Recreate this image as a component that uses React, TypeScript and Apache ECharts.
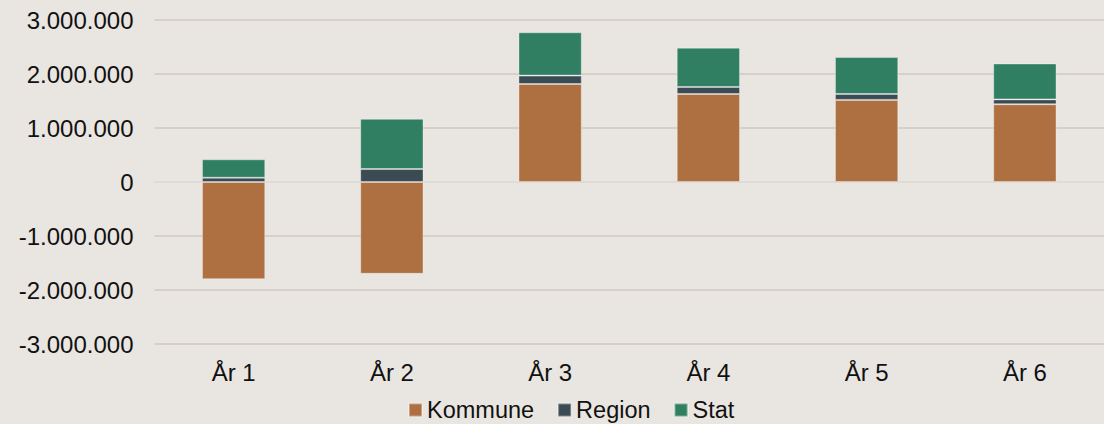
import React, { useEffect, useRef } from "react";
import * as echarts from "echarts";

const categories = ["År 1", "År 2", "År 3", "År 4", "År 5", "År 6"];
const kommune = [-1800000, -1700000, 1815000, 1630000, 1520000, 1440000];
const region = [80000, 240000, 155000, 130000, 110000, 90000];
const stat = [340000, 930000, 803000, 728000, 685000, 665000];

const fmt = (v: number) => {
  const s = Math.abs(v).toString().replace(/\B(?=(\d{3})+(?!\d))/g, ".");
  return (v < 0 ? "-" : "") + s;
};

export default function App() {
  const ref = useRef<HTMLDivElement>(null);
  useEffect(() => {
    if (!ref.current) return;
    const chart = echarts.init(ref.current, undefined, { renderer: "svg" });
    const font = "'Liberation Sans', Arial, sans-serif";
    const barStyle = (color: string) => ({
      color,
      borderColor: "rgba(255,255,255,0.35)",
      borderWidth: 1,
    });
    chart.setOption({
      animation: false,
      backgroundColor: "#E9E6E1",
      textStyle: { fontFamily: font },
      grid: { left: 154.5, right: -5.5, top: 20, bottom: 80, containLabel: false },
      legend: {
        left: 408,
        top: 398,
        padding: 0,
        itemWidth: 13,
        itemHeight: 13,
        itemGap: 23,
        icon: "rect",
        textStyle: { fontSize: 23.5, color: "#111", fontFamily: font },
        data: ["Kommune", "Region", "Stat"],
      },
      xAxis: {
        type: "category",
        data: categories,
        axisLine: { show: true, onZero: true, lineStyle: { color: "#E2E0DC", width: 1.5 } },
        axisTick: { show: false },
        axisLabel: { fontSize: 24, color: "#111", fontFamily: font, margin: 16, interval: 0 },
        position: "bottom",
      },
      yAxis: {
        type: "value",
        min: -3000000,
        max: 3000000,
        interval: 1000000,
        axisLine: { show: false },
        axisTick: { show: false },
        splitLine: { lineStyle: { color: "#CFC8BF", width: 1.5 } },
        axisLabel: { fontSize: 24, color: "#111", fontFamily: font, margin: 21, formatter: (v: number) => fmt(v) },
      },
      series: [
        { name: "Kommune", type: "bar", stack: "a", data: kommune, barWidth: "40%", itemStyle: barStyle("#AE7041") },
        { name: "Region", type: "bar", stack: "a", data: region, barWidth: "40%", itemStyle: barStyle("#3B4B54") },
        { name: "Stat", type: "bar", stack: "a", data: stat, barWidth: "40%", itemStyle: barStyle("#317F62") },
      ],
    });
    return () => chart.dispose();
  }, []);
  return <div ref={ref} style={{ width: 1104, height: 424, position: "absolute", left: 0, top: 0 }} />;
}
